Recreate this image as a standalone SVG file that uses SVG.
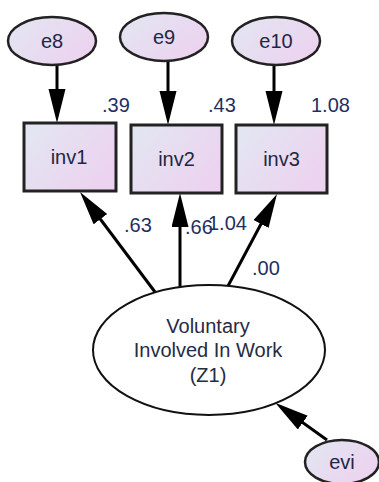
<svg xmlns="http://www.w3.org/2000/svg" width="379" height="482" viewBox="0 0 379 482">
  <defs>
    <linearGradient id="fillGrad" x1="0" y1="0" x2="1" y2="0.6">
      <stop offset="0" stop-color="#e2e7f2"/>
      <stop offset="1" stop-color="#ecd3ef"/>
    </linearGradient>
    <marker id="arrow" markerUnits="userSpaceOnUse" markerWidth="36" markerHeight="18" refX="24" refY="8.5" orient="auto">
      <path d="M0,0 L34,8.5 L0,17 z" fill="#000"/>
    </marker>
    <style>
      .obs { fill: url(#fillGrad); stroke: #222; stroke-width: 3; }
      .err { fill: url(#fillGrad); stroke: #222; stroke-width: 2.5; }
      .lat { fill: #fff; stroke: #111; stroke-width: 2; }
      .name { font-family: "Liberation Sans", Arial, sans-serif; font-size: 20px; fill: #1f2744; text-anchor: middle; }
      .latname { font-family: "Liberation Sans", Arial, sans-serif; font-size: 20px; fill: #262b44; text-anchor: middle; }
      .val { font-family: "Liberation Sans", Arial, sans-serif; font-size: 20px; fill: #1f2f62; }
      .conn line { stroke: #000; stroke-width: 3; marker-end: url(#arrow); }
    </style>
  </defs>

  <rect width="379" height="482" fill="#fff"/>

  <!-- connectors -->
  <g id="connectors" class="conn">
    <line x1="57" y1="64" x2="57" y2="113"/>
    <line x1="168" y1="60" x2="168" y2="115"/>
    <line x1="274" y1="65" x2="274" y2="115"/>
    <line x1="155" y1="292" x2="86" y2="200"/>
    <line x1="180" y1="287" x2="180" y2="203"/>
    <line x1="228" y1="286" x2="272.3" y2="202.8"/>
    <line x1="327" y1="440" x2="283.3" y2="408.6"/>
  </g>

  <!-- error terms -->
  <g id="e8">
    <ellipse class="err" cx="52" cy="41" rx="44" ry="24"/>
    <text class="name" x="52" y="48">e8</text>
  </g>
  <g id="e9">
    <ellipse class="err" cx="164" cy="37" rx="44" ry="24"/>
    <text class="name" x="164" y="44">e9</text>
  </g>
  <g id="e10">
    <ellipse class="err" cx="276" cy="41" rx="44" ry="24"/>
    <text class="name" x="276" y="48">e10</text>
  </g>

  <!-- observed indicators -->
  <g id="inv1">
    <rect class="obs" x="24" y="123" width="92" height="68"/>
    <text class="name" x="69" y="164">inv1</text>
    <text class="val" x="102" y="112">.39</text>
  </g>
  <g id="inv2">
    <rect class="obs" x="131" y="125" width="91" height="68"/>
    <text class="name" x="176.5" y="166">inv2</text>
    <text class="val" x="208" y="112">.43</text>
  </g>
  <g id="inv3">
    <rect class="obs" x="236" y="125" width="91" height="68"/>
    <text class="name" x="281.5" y="166">inv3</text>
    <text class="val" x="311" y="112">1.08</text>
  </g>

  <!-- latent factor -->
  <g id="Z1">
    <ellipse class="lat" cx="209" cy="350" rx="116" ry="65"/>
    <text class="latname" x="208" y="333">Voluntary</text>
    <text class="latname" x="208" y="357">Involved In Work</text>
    <text class="latname" x="208" y="382">(Z1)</text>
    <text class="val" x="252" y="275">.00</text>
  </g>

  <!-- loadings -->
  <g id="loadings">
    <text class="val" x="185" y="234">.66</text>
    <text class="val" x="124" y="232">.63</text>
    <text class="val" x="208" y="230">1.04</text>
  </g>

  <!-- disturbance -->
  <g id="evi">
    <ellipse class="err" cx="342" cy="462" rx="37" ry="22"/>
    <text class="name" x="342" y="469">evi</text>
  </g>
</svg>
